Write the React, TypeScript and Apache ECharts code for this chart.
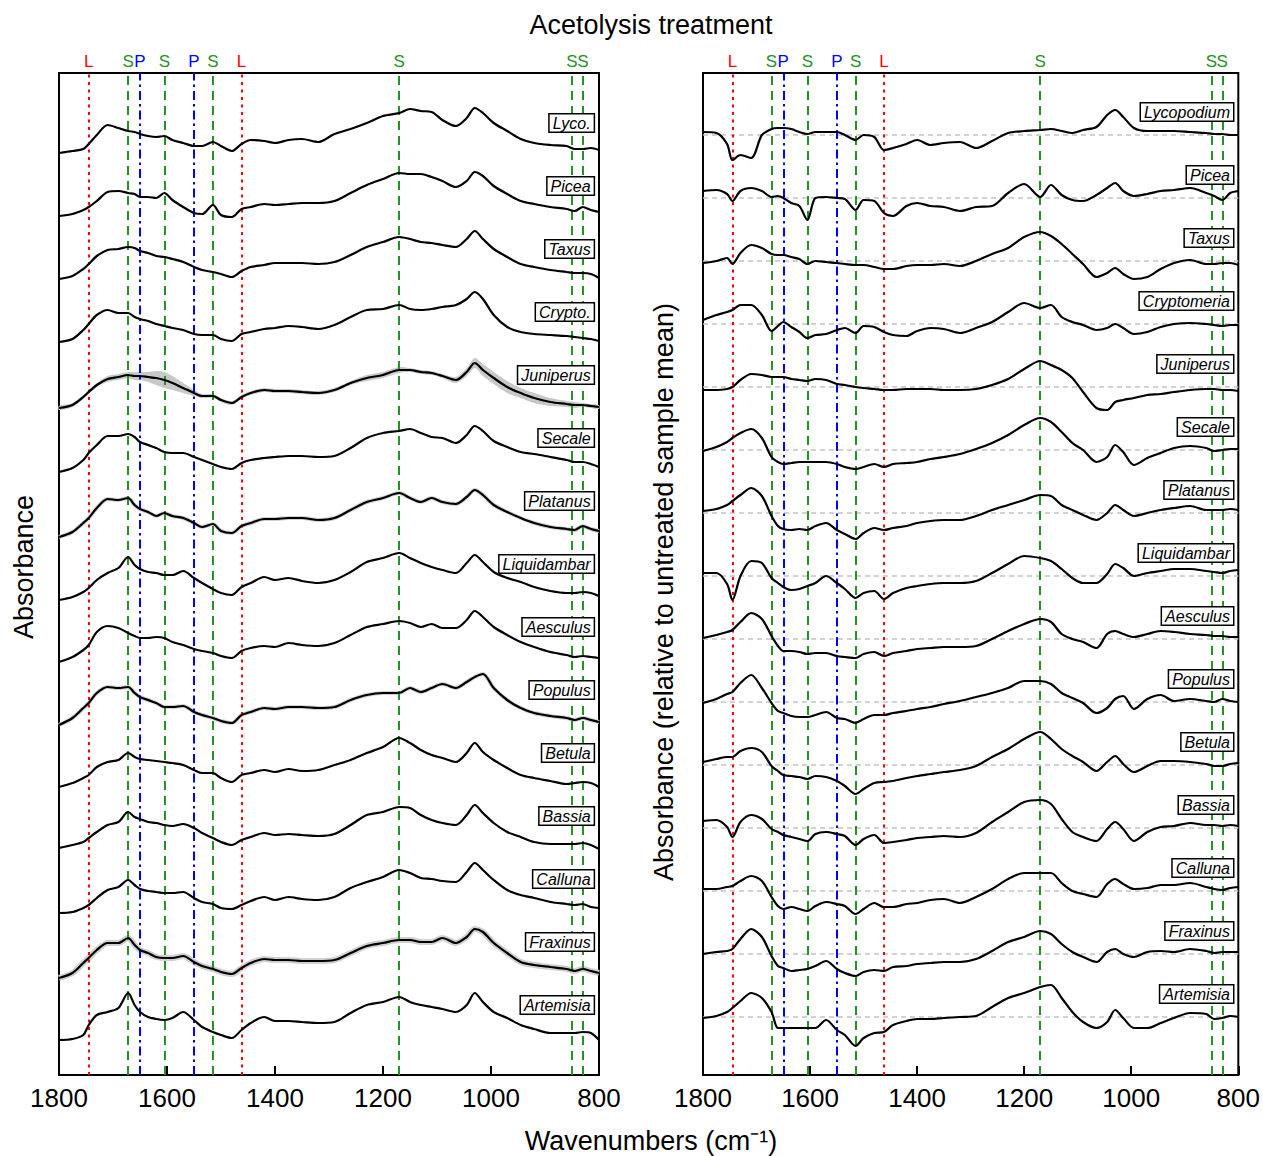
import React, { useEffect, useRef } from "react";
import * as echarts from "echarts";

// Shared wavenumber grid (cm-1)
const wavenumbers = [1800, 1775, 1755, 1745, 1730, 1710, 1690, 1672, 1660, 1650, 1635, 1620, 1605, 1590, 1570, 1550, 1535, 1515, 1500, 1480, 1462, 1445, 1420, 1400, 1375, 1350, 1320, 1290, 1260, 1230, 1200, 1170, 1150, 1130, 1110, 1090, 1065, 1045, 1030, 1015, 995, 970, 945, 920, 890, 860, 845, 830, 815, 800];

const leftNames = ["Lyco.", "Picea", "Taxus", "Crypto.", "Juniperus", "Secale", "Platanus", "Liquidambar", "Aesculus", "Populus", "Betula", "Bassia", "Calluna", "Fraxinus", "Artemisia"];
const rightNames = ["Lycopodium", "Picea", "Taxus", "Cryptomeria", "Juniperus", "Secale", "Platanus", "Liquidambar", "Aesculus", "Populus", "Betula", "Bassia", "Calluna", "Fraxinus", "Artemisia"];

// Left panel: acetolysed absorbance (relative units, each spectrum from its own baseline)
const lycoA = [0, 2, 4, 9, 18, 28, 25, 22, 21, 19, 17, 16, 17, 13, 10, 7, 7, 11, 7, 2, 9, 13, 12, 10, 13, 14, 11, 19, 24, 30, 37, 40, 44, 42, 41, 33, 27, 35, 45, 40, 30, 22, 14, 10, 8, 7, 4, 4, 5, 3];
const piceaA = [0, 2, 6, 9, 15, 24, 25, 23, 22, 19, 19, 18, 23, 16, 9, 3, 2, 11, 1, -1, 7, 9, 12, 11, 12, 13, 13, 15, 23, 31, 37, 43, 42, 42, 39, 35, 29, 35, 44, 40, 30, 22, 15, 12, 9, 7, 5, 9, 6, 4];
const taxusA = [0, 3, 10, 15, 23, 29, 30, 32, 31, 28, 26, 23, 22, 20, 17, 12, 9, 7, 5, 2, 8, 12, 14, 16, 16, 16, 15, 17, 24, 32, 37, 42, 40, 37, 36, 34, 32, 40, 48, 40, 30, 22, 15, 12, 9, 7, 6, 6, 5, 1];
const cryptoA = [0, 3, 12, 18, 27, 32, 29, 29, 25, 23, 21, 18, 16, 14, 12, 8, 7, 7, 3, 1, 8, 10, 13, 14, 16, 15, 13, 17, 25, 32, 33, 37, 33, 32, 33, 35, 37, 43, 50, 43, 27, 15, 10, 8, 7, 6, 5, 4, 3, 1];
const juniperusA = [-3, 0, 8, 13, 20, 26, 28, 30, 29, 29, 28, 27, 25, 22, 17, 12, 9, 9, 5, 2, 8, 12, 15, 14, 14, 13, 12, 15, 22, 27, 30, 35, 35, 33, 32, 29, 25, 33, 42, 35, 27, 18, 12, 7, 3, 1, 0, 0, -1, -2];
const juniperusSpread = [2, 2, 2, 2, 2, 3, 3, 3, 4, 4, 5, 7, 8, 7, 5, 3, 2, 2, 2, 2, 2, 2, 2, 2, 2, 2, 2, 2, 2, 3, 3, 3, 2, 2, 2, 2, 3, 4, 5, 6, 6, 6, 5, 5, 4, 3, 3, 2, 2, 2];
const secaleA = [-4, 0, 8, 15, 23, 32, 32, 34, 31, 26, 23, 20, 16, 15, 15, 11, 8, 4, 1, -1, 5, 8, 10, 11, 12, 12, 11, 12, 20, 30, 35, 37, 39, 35, 31, 30, 25, 33, 42, 37, 27, 21, 16, 14, 11, 8, 6, 6, 4, 1];
const platanusA = [-6, -1, 8, 13, 23, 32, 31, 33, 26, 22, 19, 15, 18, 15, 13, 8, 4, 7, 0, -2, 5, 8, 12, 12, 13, 13, 11, 13, 21, 29, 33, 38, 33, 29, 33, 29, 27, 34, 41, 36, 26, 19, 13, 8, 4, 2, 1, 5, 2, 0];
const liquidambarA = [-6, -3, 2, 6, 14, 21, 26, 37, 29, 25, 22, 21, 19, 19, 23, 16, 11, 5, 1, -1, 7, 11, 17, 14, 16, 13, 11, 14, 22, 32, 36, 41, 36, 31, 27, 24, 21, 31, 39, 32, 22, 16, 12, 7, 3, 1, 1, 2, 1, -2];
const aesculusA = [-5, 0, 7, 12, 25, 31, 29, 24, 21, 19, 19, 20, 19, 15, 12, 8, 6, 4, 1, -1, 6, 9, 11, 10, 14, 12, 11, 14, 22, 30, 33, 36, 34, 30, 33, 29, 29, 37, 46, 40, 30, 22, 15, 10, 5, 2, 0, 1, 0, -1];
const populusA = [-5, 2, 12, 17, 27, 33, 32, 33, 27, 23, 20, 17, 13, 13, 14, 8, 5, 2, -1, -3, 5, 8, 12, 11, 13, 13, 12, 13, 20, 25, 27, 27, 32, 28, 32, 36, 32, 38, 43, 46, 32, 20, 12, 7, 4, 2, 0, 2, 0, -2];
const betulaA = [-4, 0, 5, 8, 16, 21, 23, 30, 26, 24, 23, 22, 21, 20, 18, 13, 10, 10, 5, 1, 8, 10, 13, 11, 14, 12, 13, 18, 23, 30, 36, 45, 40, 33, 28, 25, 21, 30, 40, 31, 23, 15, 8, 5, 2, -1, 0, 1, 0, -4];
const bassiaA = [-2, 1, 4, 8, 14, 21, 24, 34, 29, 27, 24, 23, 21, 20, 22, 18, 13, 8, 4, 1, 6, 9, 13, 11, 12, 11, 10, 12, 21, 31, 34, 39, 38, 31, 26, 23, 21, 31, 41, 33, 23, 14, 9, 4, 2, 2, 2, 3, 1, -3];
const callunaA = [-4, -3, 1, 4, 11, 19, 22, 29, 24, 20, 18, 17, 16, 16, 17, 11, 7, 5, 1, 0, 4, 8, 12, 9, 12, 10, 9, 12, 21, 27, 32, 39, 36, 31, 30, 28, 27, 37, 46, 39, 29, 19, 14, 11, 7, 5, 4, 5, 2, 1];
const fraxinusA = [-6, -1, 9, 14, 22, 29, 29, 34, 27, 22, 19, 15, 14, 14, 16, 10, 6, 3, 0, -2, 4, 9, 13, 12, 12, 11, 11, 12, 19, 26, 29, 32, 32, 30, 30, 34, 29, 35, 43, 40, 29, 19, 10, 7, 5, 3, 1, 3, 1, -1];
const artemisiaA = [-5, -4, 0, 10, 20, 23, 27, 42, 30, 23, 18, 16, 15, 17, 23, 15, 8, 3, 0, -3, 5, 12, 18, 14, 14, 13, 12, 13, 22, 30, 33, 38, 33, 30, 28, 26, 23, 30, 42, 33, 23, 17, 10, 6, 2, 2, 2, 3, 2, -5];

// Right panel: absorbance relative to untreated sample mean
const lycoR = [3, 2, -9, -25, -20, -23, 0, 6, 7, 7, 6, 3, 1, 3, 3, 3, 0, -5, 0, -2, -15, -13, -9, -5, -10, -8, -7, -13, -6, 2, 4, 5, 6, 4, 2, 5, 8, 20, 25, 18, 7, 4, 4, 4, 3, 2, 1, 1, 0, 0];
const piceaR = [7, 8, 4, -3, 7, 10, 7, 1, 2, 0, -5, -8, -22, 0, 1, 0, -1, -12, -2, -3, -15, -18, -8, -5, -8, -9, -13, -9, -8, 5, 14, 1, 13, 3, -2, -3, 3, 10, 15, 7, 2, 4, 7, 8, 10, 5, 2, -2, 5, 7];
const taxusR = [-2, 0, 3, -3, 8, 16, 13, 7, 6, 6, 4, 2, -3, 0, -1, -2, -3, -4, -4, -6, -8, -8, -5, -4, -4, -3, -5, 0, 7, 13, 24, 29, 25, 17, 7, -3, -16, -12, -7, -13, -18, -16, -8, -2, 1, -3, -3, -2, -2, -4];
const cryptoR = [4, 9, 12, 14, 19, 19, 9, -7, -2, 2, -3, -8, -14, -11, -10, -6, -4, -9, -2, -3, -8, -11, -12, -7, -4, -5, -9, -4, 2, 12, 21, 16, 19, 7, 2, -1, -6, -4, 0, -4, -10, -8, -3, 0, 1, 0, -1, -2, -1, -1];
const juniperusR = [-3, -3, -2, 0, 7, 13, 12, 10, 10, 10, 8, 7, 6, 8, 7, 3, 2, 0, -1, -2, -3, -3, -2, -2, -2, -3, -3, -2, 2, 8, 18, 26, 22, 17, 9, -5, -21, -23, -15, -13, -11, -8, -7, -5, -3, -2, -2, -3, -3, -4];
const secaleR = [-1, 3, 8, 12, 17, 21, 12, -7, -12, -14, -13, -12, -12, -12, -12, -14, -17, -19, -17, -14, -17, -14, -13, -12, -9, -7, -4, 1, 7, 15, 25, 32, 28, 18, 7, 0, -12, -7, 5, -2, -15, -8, -3, 2, 4, 2, -1, 0, 1, 1];
const platanusR = [2, 4, 8, 12, 18, 25, 17, -3, -13, -16, -17, -16, -17, -13, -10, -17, -21, -26, -20, -15, -17, -15, -13, -10, -8, -7, -7, -3, 3, 8, 13, 18, 17, 8, 3, -2, -7, 0, 8, 3, -3, 0, 3, 5, 7, 3, 3, 3, 4, 3];
const liquidambarR = [3, 3, -8, -24, 0, 15, 13, -2, -7, -11, -14, -13, -10, -7, 0, -7, -13, -22, -17, -15, -23, -17, -12, -10, -8, -7, -7, -5, 3, 12, 20, 18, 15, 7, -2, -7, -7, 2, 12, 8, 0, 3, 5, 7, 7, 5, 4, 3, 5, 6];
const aesculusR = [1, 4, 7, 9, 17, 26, 20, 3, -7, -12, -12, -13, -15, -14, -14, -17, -18, -19, -15, -13, -17, -14, -12, -10, -9, -8, -8, -7, 0, 8, 15, 20, 17, 5, 0, -3, -9, 5, 8, 5, 2, 5, 8, 7, 5, 4, 3, 3, 2, 2];
const populusR = [-1, 3, 8, 10, 19, 27, 14, -1, -9, -11, -14, -15, -15, -13, -10, -16, -17, -21, -17, -13, -13, -11, -9, -7, -5, -2, 1, 5, 9, 14, 21, 21, 18, 9, 4, -1, -11, -6, 3, 6, -7, 3, 7, 1, 3, 1, 0, 3, 1, 0];
const betulaR = [3, 6, 8, 8, 14, 17, 13, -1, -6, -10, -11, -12, -14, -11, -12, -16, -21, -29, -24, -18, -17, -16, -13, -11, -9, -7, -5, -1, 8, 16, 26, 33, 26, 16, 9, 3, -6, 3, 9, 1, -7, -1, 4, 4, 3, 1, -1, -1, 1, 2];
const bassiaR = [7, 8, 1, -9, 6, 13, 9, -1, -4, -7, -9, -11, -13, -6, -4, -6, -8, -17, -11, -7, -15, -14, -12, -10, -9, -8, -9, -5, 6, 16, 26, 28, 24, 9, -4, -9, -13, -1, 6, -1, -13, -4, 1, 2, 5, 3, 3, 2, 3, 2];
const callunaR = [2, 2, 4, 5, 10, 15, 10, -6, -15, -18, -16, -18, -20, -15, -11, -13, -15, -23, -18, -12, -16, -16, -13, -12, -9, -8, -12, -6, 2, 12, 18, 18, 18, 8, 0, -3, -6, 7, 12, 7, 2, 3, 6, 6, 8, 4, 2, 1, 3, 4];
const fraxinusR = [0, 2, 3, 5, 15, 25, 17, -2, -12, -14, -17, -16, -15, -12, -7, -15, -19, -22, -18, -16, -17, -13, -12, -10, -9, -8, -8, -5, 3, 12, 17, 23, 20, 10, 2, -3, -8, 2, 5, 0, -3, 2, 3, 2, 5, 3, 1, 2, 2, 2];
const artemisiaR = [-1, 1, 5, 9, 16, 24, 19, 5, -11, -11, -11, -11, -11, -11, -3, -13, -18, -29, -21, -16, -15, -8, -4, -2, -2, -1, 0, 1, 10, 19, 24, 30, 32, 19, 5, -5, -11, -5, 7, -1, -11, -11, -6, -1, 4, 3, -2, -1, 1, 0];

// Marker bands (wavenumber, assignment)
const bandWavenumbers = [1745, 1672, 1650, 1605, 1550, 1515, 1462, 1170, 850, 830];
const bandTags = ["L", "S", "P", "S", "P", "S", "L", "S", "S", "S"];

const leftSpectra = [lycoA, piceaA, taxusA, cryptoA, juniperusA, secaleA, platanusA, liquidambarA, aesculusA, populusA, betulaA, bassiaA, callunaA, fraxinusA, artemisiaA];
const rightSpectra = [lycoR, piceaR, taxusR, cryptoR, juniperusR, secaleR, platanusR, liquidambarR, aesculusR, populusR, betulaR, bassiaR, callunaR, fraxinusR, artemisiaR];

const FONT = "'Liberation Sans', Arial, Helvetica, sans-serif";
const STEP = 63;
const LEFT_TOP_BASE = 922;
const RIGHT_TOP_BASE = 940;
const Y_MAX = 1002;
const LABEL_WN = 809;
const JUN_INDEX = 4;

const tagStyles: Record<string, { color: string; dash: number[] }> = {
  L: { color: "#ff0000", dash: [3, 4.5] },
  S: { color: "#259225", dash: [9, 6] },
  P: { color: "#0000ff", dash: [9, 4, 2.5, 4] },
};

// spread halo widths (px) for spectra with a visible replicate spread
const haloWidths: Record<number, number> = { 13: 6, 9: 4, 6: 4 };

function labelStyle() {
  return {
    show: true,
    position: "left",
    distance: 0,
    fontStyle: "italic",
    fontSize: 16,
    lineHeight: 17,
    fontFamily: FONT,
    color: "#000",
    backgroundColor: "#fff",
    borderColor: "#000",
    borderWidth: 1.5,
    padding: [0, 3, 0, 3],
  };
}

function buildOption() {
  const series: any[] = [];

  const verticalMarks = () => ({
    silent: true,
    symbol: ["none", "none"],
    z: 2,
    animation: false,
    data: bandWavenumbers.map((wn, j) => {
      const st = tagStyles[bandTags[j]];
      return {
        xAxis: wn,
        lineStyle: { color: st.color, type: st.dash, width: 2 },
        label: {
          show: true,
          position: "end",
          distance: 3,
          formatter: bandTags[j],
          color: st.color,
          fontSize: 17,
          fontFamily: FONT,
        },
      };
    }),
  });

  // Juniperus spread band (left panel), drawn as one polygon
  const jBase = LEFT_TOP_BASE - STEP * JUN_INDEX;
  series.push({
    type: "custom",
    xAxisIndex: 0,
    yAxisIndex: 0,
    silent: true,
    z: 1,
    data: wavenumbers.map((w, k) => [w, jBase + juniperusA[k] - juniperusSpread[k], jBase + juniperusA[k] + juniperusSpread[k]]),
    encode: { x: 0, y: [1, 2] },
    renderItem: (params: any, api: any) => {
      if (params.dataIndex !== 0) return null;
      const upper = wavenumbers.map((w, k) => api.coord([w, jBase + juniperusA[k] + juniperusSpread[k]]));
      const lower = wavenumbers.map((w, k) => api.coord([w, jBase + juniperusA[k] - juniperusSpread[k]])).reverse();
      return {
        type: "polygon",
        shape: { points: upper.concat(lower), smooth: 0.3 },
        style: { fill: "#c8c8c8", stroke: "none" },
      };
    },
  });

  // Halos for spectra with visible spread
  leftSpectra.forEach((vals, i) => {
    const hw = haloWidths[i];
    if (!hw) return;
    const base = LEFT_TOP_BASE - STEP * i;
    series.push({
      type: "line",
      xAxisIndex: 0,
      yAxisIndex: 0,
      symbol: "none",
      smooth: 0.3,
      silent: true,
      lineStyle: { color: "#d0d0d0", width: hw },
      data: wavenumbers.map((w, k) => [w, base + vals[k]]),
      z: 1,
    });
  });

  leftSpectra.forEach((vals, i) => {
    const base = LEFT_TOP_BASE - STEP * i;
    const s: any = {
      type: "line",
      name: leftNames[i],
      xAxisIndex: 0,
      yAxisIndex: 0,
      symbol: "none",
      smooth: 0.3,
      lineStyle: { color: "#000", width: 2.2 },
      data: wavenumbers.map((w, k) => [w, base + vals[k]]),
      z: 3,
      markPoint: {
        symbol: "rect",
        symbolSize: 1,
        itemStyle: { color: "rgba(0,0,0,0)" },
        z: 6,
        silent: true,
        data: [{ coord: [LABEL_WN, base + 30], name: leftNames[i] }],
        label: { ...labelStyle(), formatter: leftNames[i] },
      },
    };
    if (i === 0) s.markLine = verticalMarks();
    series.push(s);
  });

  rightSpectra.forEach((vals, i) => {
    const base = RIGHT_TOP_BASE - STEP * i;
    series.push({
      type: "line",
      name: rightNames[i],
      xAxisIndex: 1,
      yAxisIndex: 1,
      symbol: "none",
      smooth: 0.3,
      lineStyle: { color: "#000", width: 2.2 },
      data: wavenumbers.map((w, k) => [w, base + vals[k]]),
      z: 3,
      markPoint: {
        symbol: "rect",
        symbolSize: 1,
        itemStyle: { color: "rgba(0,0,0,0)" },
        z: 6,
        silent: true,
        data: [{ coord: [LABEL_WN, base + 23], name: rightNames[i] }],
        label: { ...labelStyle(), formatter: rightNames[i] },
      },
    });
    // zero reference line (dashed gray)
    series.push({
      type: "line",
      xAxisIndex: 1,
      yAxisIndex: 1,
      symbol: "none",
      silent: true,
      lineStyle: { color: "#c4c4c4", width: 1.6, type: [5, 4] },
      data: [
        [1800, base],
        [800, base],
      ],
      z: 1,
    });
  });

  // vertical band lines in right panel
  series.push({
    type: "line",
    xAxisIndex: 1,
    yAxisIndex: 1,
    symbol: "none",
    silent: true,
    lineStyle: { opacity: 0 },
    data: [
      [1800, RIGHT_TOP_BASE],
      [800, RIGHT_TOP_BASE],
    ],
    markLine: verticalMarks(),
  });

  const xAxisCommon = {
    type: "value",
    min: 800,
    max: 1800,
    interval: 200,
    inverse: true,
    axisLine: { show: false },
    axisTick: { show: true, inside: true, length: 9, lineStyle: { color: "#000", width: 2 } },
    axisLabel: { fontSize: 26, color: "#000", margin: 10, fontFamily: FONT, formatter: (v: number) => String(v) },
    splitLine: { show: false },
  };

  const textStyle = (text: string, size: number) => ({
    text,
    fontSize: size,
    fontFamily: FONT,
    fill: "#000",
    textAlign: "center",
    textVerticalAlign: "middle",
    align: "center",
    verticalAlign: "middle",
  });

  return {
    animation: false,
    backgroundColor: "#fff",
    grid: [
      { left: 59, top: 73, width: 540, height: Y_MAX, show: true, borderColor: "#000", borderWidth: 2, backgroundColor: "rgba(0,0,0,0)" },
      { left: 703, top: 73, width: 539, height: Y_MAX, show: true, borderColor: "#000", borderWidth: 2, backgroundColor: "rgba(0,0,0,0)" },
    ],
    xAxis: [
      { ...xAxisCommon, gridIndex: 0 },
      { ...xAxisCommon, gridIndex: 1 },
    ],
    yAxis: [
      { type: "value", gridIndex: 0, min: 0, max: Y_MAX, show: false },
      { type: "value", gridIndex: 1, min: 0, max: Y_MAX, show: false },
    ],
    graphic: [
      { type: "text", x: 651, y: 25, style: textStyle("Acetolysis treatment", 27) },
      { type: "text", x: 651, y: 1141, style: textStyle("Wavenumbers (cm\u207B\u00B9)", 27) },
      { type: "text", x: 24, y: 567, rotation: Math.PI / 2, style: textStyle("Absorbance", 27) },
      { type: "text", x: 664, y: 592, rotation: Math.PI / 2, style: textStyle("Absorbance (relative to untreated sample mean)", 27) },
    ],
    series,
  };
}

export default function App() {
  const ref = useRef<HTMLDivElement>(null);
  useEffect(() => {
    document.body.style.margin = "0";
    if (!ref.current) return;
    const chart = echarts.init(ref.current, null, { renderer: "svg" });
    chart.setOption(buildOption() as any);
    return () => chart.dispose();
  }, []);
  return <div ref={ref} style={{ width: 1263, height: 1156 }} />;
}
